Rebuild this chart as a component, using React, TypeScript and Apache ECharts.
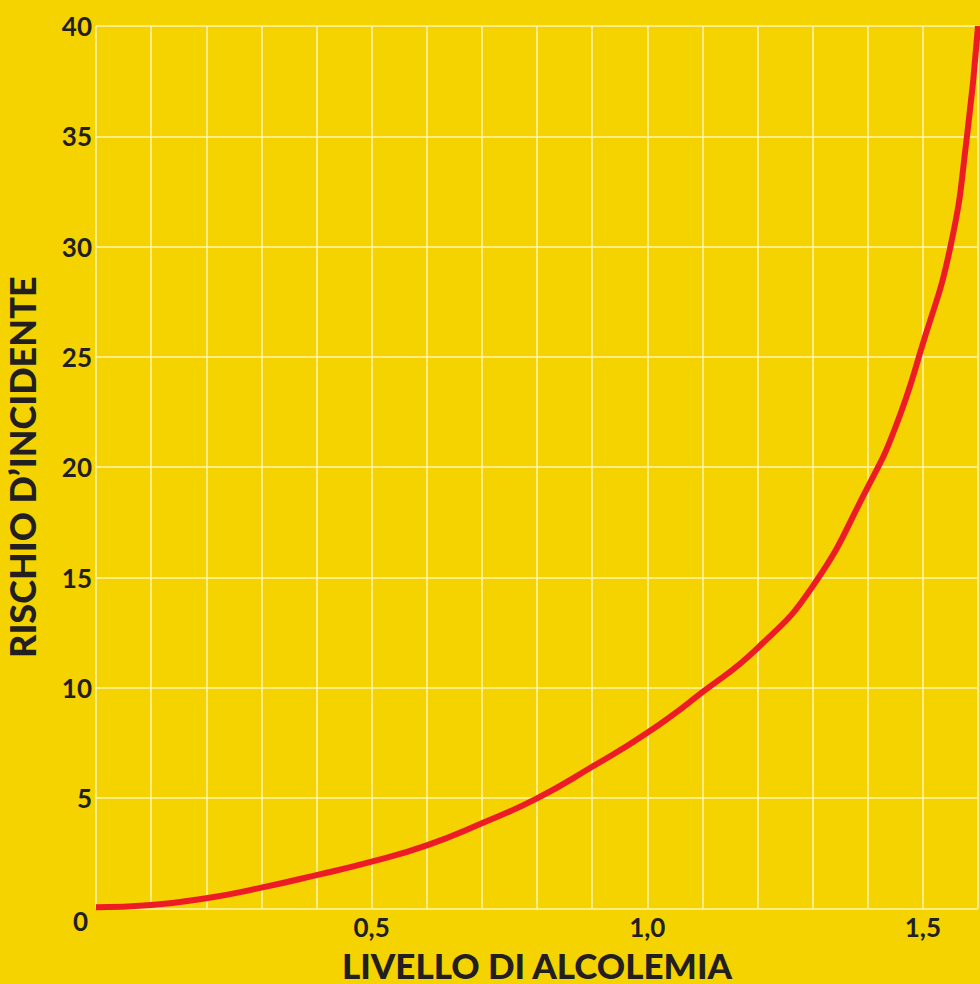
import React, { useEffect, useRef } from "react";
import * as echarts from "echarts";

const alcohol = [0, 0.1, 0.2, 0.3, 0.4, 0.5, 0.6, 0.7, 0.8, 0.9, 1.0, 1.1, 1.2, 1.3, 1.4, 1.45, 1.5, 1.55, 1.58, 1.6];
const risk = [0.05, 0.15, 0.46, 0.94, 1.51, 2.12, 2.86, 3.86, 4.99, 6.42, 7.96, 9.8, 11.8, 14.6, 19.1, 21.8, 25.6, 30, 35, 40];
const xLabelTicks = [0.5, 1.0, 1.5];
const xTitle = "LIVELLO DI ALCOLEMIA";
const yTitle = "RISCHIO D’INCIDENTE";

const BG = "#F4D300";
const INK = "#231F20";

export default function App() {
  const ref = useRef<HTMLDivElement>(null);
  useEffect(() => {
    if (!ref.current) return;
    const chart = echarts.init(ref.current, null, { renderer: "svg" });
    const data = alcohol.map((x, i) => [x, risk[i]]);
    chart.setOption({
      animation: false,
      backgroundColor: BG,
      grid: { left: 96, right: 2, top: 26, bottom: 75.6, containLabel: false, outerBoundsMode: "none" },
      xAxis: {
        type: "value",
        min: 0,
        max: 1.6,
        interval: 0.1,
        name: xTitle,
        nameLocation: "middle",
        nameGap: 39,
        nameTextStyle: { color: INK, fontFamily: "Lato", fontWeight: 900, fontSize: 35 },
        axisLine: { show: false },
        axisTick: { show: false },
        axisLabel: {
          color: INK,
          fontFamily: "Lato",
          fontWeight: 700,
          fontSize: 26,
          margin: 6,
          formatter: (v: number) => {
            const hit = xLabelTicks.find((t) => Math.abs(t - v) < 1e-6);
            return hit !== undefined ? hit.toFixed(1).replace(".", ",") : "";
          },
        },
        splitLine: { show: true, lineStyle: { color: "#FFF4B0", width: 1.5 } },
      },
      yAxis: {
        type: "value",
        min: 0,
        max: 40,
        interval: 5,
        name: yTitle,
        nameLocation: "middle",
        nameGap: 56,
        nameRotate: 90,
        nameTextStyle: { color: INK, fontFamily: "Lato", fontWeight: 900, fontSize: 36 },
        axisLine: { show: false },
        axisTick: { show: false },
        axisLabel: {
          color: INK,
          fontFamily: "Lato",
          fontWeight: 700,
          fontSize: 26,
          margin: 4,
          formatter: (v: number) => (v === 0 ? "{z|0}" : String(v)),
          rich: {
            z: { color: INK, fontFamily: "Lato", fontWeight: 700, fontSize: 26, padding: [26, 4, 0, 0] },
          },
        },
        splitLine: { show: true, lineStyle: { color: "#FFF4B0", width: 1.5 } },
      },
      series: [
        {
          type: "line",
          data,
          showSymbol: false,
          smooth: 0.5,
          lineStyle: { color: "#ED1C24", width: 6 },
          clip: false,
        },
      ],
    });
    return () => chart.dispose();
  }, []);
  return <div ref={ref} style={{ position: "absolute", left: 0, top: 0, width: 980, height: 984 }} />;
}
